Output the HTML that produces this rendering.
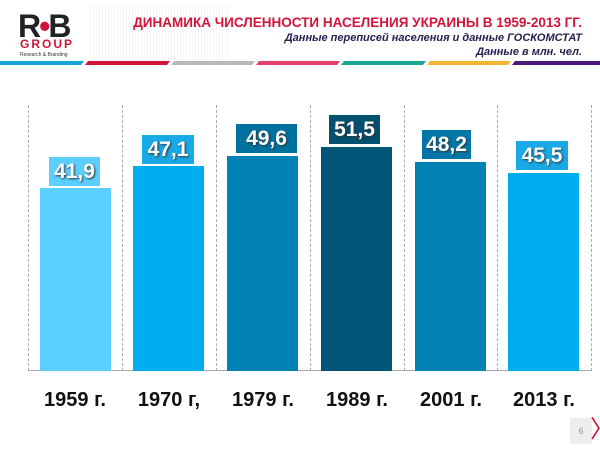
<!DOCTYPE html>
<html><head><meta charset="utf-8"><style>
body{margin:0;width:600px;height:450px;background:#fff;position:relative;overflow:hidden;font-family:"Liberation Sans",sans-serif}
.a{position:absolute}
.t{right:18px;text-align:right;font-weight:bold}
.bar{position:absolute;bottom:79px;width:71px}
.lb{position:absolute;color:#fff;font-weight:bold;font-size:21px;text-align:center;line-height:29px;text-shadow:1px 1px 2px #333}
.g{position:absolute;top:105px;height:266px;border-left:1px dashed #aaa}
.yr{position:absolute;top:389px;width:94px;text-align:center;font-weight:bold;font-size:20px;color:#111}
</style></head><body>
<div class="a" style="left:90px;top:5px;width:140px;height:55px;background:repeating-linear-gradient(90deg,#f2f2f2 0 1px,transparent 1px 3px);opacity:.7"></div>
<div class="a" style="left:18px;top:8px;font-size:32px;font-weight:bold;letter-spacing:-2px;color:#222">R<span style="color:#d2143a">•</span>B</div>
<div class="a" style="left:20px;top:37px;font-size:12px;font-weight:bold;color:#d2143a;letter-spacing:2px">GROUP</div>
<div class="a" style="left:20px;top:52px;font-size:5px;color:#333">Research &amp; Branding</div>
<div class="a t" style="top:15px;font-size:13.5px;color:#d2143a">ДИНАМИКА ЧИСЛЕННОСТИ НАСЕЛЕНИЯ УКРАИНЫ В 1959-2013 ГГ.</div>
<div class="a t" style="top:32px;font-size:11px;font-style:italic;color:#2a2050">Данные переписей населения и данные ГОСКОМСТАТ</div>
<div class="a t" style="top:46px;font-size:11px;font-style:italic;color:#2a2050">Данные в млн. чел.</div>
<svg class="a" style="left:0;top:60px" width="600" height="6">
<polygon points="0,1 84,1 81,5 0,5" fill="#1aa3d8"/>
<polygon points="88,1 170,1 167,5 85,5" fill="#d2143a"/>
<polygon points="174,1 255,1 252,5 171,5" fill="#b8b8b8"/>
<polygon points="259,1 340,1 337,5 256,5" fill="#e0406a"/>
<polygon points="344,1 426,1 423,5 341,5" fill="#1aa58e"/>
<polygon points="430,1 511,1 508,5 427,5" fill="#f2b632"/>
<polygon points="515,1 600,1 600,5 512,5" fill="#4a1a78"/>
</svg>
<div class="g" style="left:28px"></div><div class="g" style="left:122px"></div><div class="g" style="left:216px"></div><div class="g" style="left:310px"></div><div class="g" style="left:404px"></div><div class="g" style="left:497px"></div><div class="g" style="left:591px"></div>
<div class="a" style="left:28px;top:370px;width:564px;border-top:1px solid #aaa"></div>
<div class="bar" style="left:40px;top:188px;background:#5bcfff"></div>
<div class="bar" style="left:133px;top:166px;background:#00aeef"></div>
<div class="bar" style="left:227px;top:156px;background:#0082b4"></div>
<div class="bar" style="left:321px;top:147px;background:#005577"></div>
<div class="bar" style="left:415px;top:162px;background:#0082b4"></div>
<div class="bar" style="left:508px;top:173px;background:#00aeef"></div>
<div class="lb" style="left:49px;top:157px;width:51px;background:#5bcfff">41,9</div>
<div class="lb" style="left:142px;top:135px;width:52px;background:#18a9e6">47,1</div>
<div class="lb" style="left:236px;top:124px;width:61px;background:#00719f">49,6</div>
<div class="lb" style="left:329px;top:115px;width:51px;background:#005070">51,5</div>
<div class="lb" style="left:422px;top:130px;width:49px;background:#0077a8">48,2</div>
<div class="lb" style="left:516px;top:141px;width:52px;background:#18a9e6">45,5</div>
<div class="yr" style="left:28px">1959 г.</div>
<div class="yr" style="left:122px">1970 г,</div>
<div class="yr" style="left:216px">1979 г.</div>
<div class="yr" style="left:310px">1989 г.</div>
<div class="yr" style="left:404px">2001 г.</div>
<div class="yr" style="left:497px">2013 г.</div>
<div class="a" style="left:570px;top:418px;width:22px;height:26px;background:#eee;font-size:9px;color:#999;text-align:center;line-height:26px">6</div>
<div class="a" style="left:590px;top:416px;color:#d2143a;font-size:24px;line-height:28px">〉</div>
</body></html>
